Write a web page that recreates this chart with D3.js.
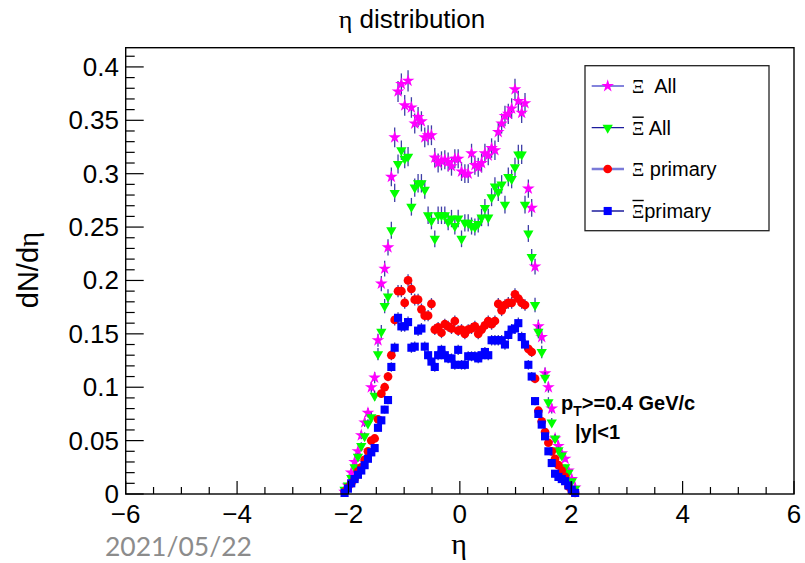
<!DOCTYPE html>
<html>
<head>
<meta charset="utf-8">
<script src="https://cdn.jsdelivr.net/npm/d3@7"></script>
<style>
  html, body { margin: 0; padding: 0; background: #fff; }
  svg { display: block; }
</style>
</head>
<body>
<svg id="chart" width="805" height="563"></svg>
<script>
// Histogram binning: 70 bins of width 0.06 from -2.1 to 2.1
const binLow = -2.1;
const binWidth = 0.06;

// dN/deta per bin
const xiAll = [
  0.002, 0.008, 0.020, 0.030, 0.040, 0.055, 0.067, 0.076, 0.100, 0.109,
  0.144, 0.197, 0.211, 0.231, 0.297, 0.334, 0.377, 0.384, 0.364, 0.387,
  0.362, 0.347, 0.353, 0.349, 0.334, 0.336, 0.336, 0.315, 0.310, 0.312,
  0.313, 0.311, 0.307, 0.314, 0.314, 0.302, 0.300, 0.300, 0.319, 0.308,
  0.306, 0.310, 0.319, 0.317, 0.324, 0.322, 0.339, 0.347, 0.354, 0.356,
  0.361, 0.379, 0.368, 0.357, 0.366, 0.286, 0.268, 0.213, 0.157, 0.147,
  0.113, 0.100, 0.080, 0.052, 0.045, 0.038, 0.033, 0.022, 0.014, 0.006
];
const xiBarAll = [
  0.004, 0.008, 0.015, 0.025, 0.035, 0.045, 0.054, 0.066, 0.072, 0.092,
  0.131, 0.152, 0.176, 0.185, 0.247, 0.282, 0.309, 0.322, 0.314, 0.316,
  0.269, 0.287, 0.291, 0.291, 0.285, 0.261, 0.256, 0.239, 0.261, 0.261,
  0.261, 0.255, 0.258, 0.251, 0.258, 0.239, 0.254, 0.254, 0.251, 0.250,
  0.253, 0.259, 0.268, 0.259, 0.278, 0.288, 0.283, 0.290, 0.271, 0.297,
  0.295, 0.306, 0.318, 0.318, 0.271, 0.244, 0.222, 0.177, 0.152, 0.133,
  0.109, 0.086, 0.067, 0.052, 0.041, 0.036, 0.025, 0.020, 0.012, 0.005
];
const xiPrimary = [
  0.002, 0.006, 0.010, 0.014, 0.021, 0.025, 0.032, 0.040, 0.050, 0.052,
  0.070, 0.094, 0.100, 0.110, 0.130, 0.163, 0.190, 0.190, 0.179, 0.200,
  0.192, 0.182, 0.182, 0.173, 0.167, 0.167, 0.178, 0.154, 0.156, 0.151,
  0.159, 0.157, 0.155, 0.162, 0.153, 0.154, 0.150, 0.154, 0.155, 0.157,
  0.150, 0.154, 0.158, 0.162, 0.159, 0.162, 0.178, 0.172, 0.177, 0.179,
  0.179, 0.187, 0.183, 0.179, 0.177, 0.136, 0.133, 0.108, 0.078, 0.068,
  0.058, 0.048, 0.040, 0.033, 0.027, 0.022, 0.016, 0.007, 0.003, 0.001
];
const xiBarPrimary = [
  0.001, 0.005, 0.010, 0.014, 0.018, 0.022, 0.027, 0.033, 0.039, 0.043,
  0.062, 0.069, 0.079, 0.088, 0.119, 0.137, 0.165, 0.157, 0.157, 0.161,
  0.137, 0.138, 0.153, 0.155, 0.138, 0.130, 0.124, 0.119, 0.130, 0.135,
  0.130, 0.127, 0.127, 0.121, 0.135, 0.121, 0.121, 0.129, 0.129, 0.129,
  0.127, 0.130, 0.133, 0.130, 0.144, 0.144, 0.144, 0.144, 0.140, 0.149,
  0.154, 0.155, 0.160, 0.147, 0.140, 0.121, 0.110, 0.087, 0.075, 0.065,
  0.054, 0.040, 0.029, 0.019, 0.016, 0.014, 0.012, 0.008, 0.004, 0.001
];

// Statistical error coefficient per series (sigma = k * sqrt(content))
const errCoef = [0.016, 0.016, 0.013, 0.013];

const xTicks = [-6, -4, -2, 0, 2, 4, 6];
const yTicks = [0, 0.05, 0.1, 0.15, 0.2, 0.25, 0.3, 0.35, 0.4];
const legendLabels = [
  { sym: "Ξ", bar: false, rest: "  All" },
  { sym: "Ξ", bar: true,  rest: " All" },
  { sym: "Ξ", bar: false, rest: " primary" },
  { sym: "Ξ", bar: true,  rest: "primary" }
];

const series = [
  { values: xiAll,        color: "#ff00ff", marker: "star" },
  { values: xiBarAll,     color: "#00ff00", marker: "tri" },
  { values: xiPrimary,    color: "#ff0000", marker: "circle" },
  { values: xiBarPrimary, color: "#0000ff", marker: "square" }
];

const svg = d3.select("#chart");
const frame = { left: 125.7, right: 794, top: 47.7, bottom: 494 };

const x = d3.scaleLinear().domain([-6, 6]).range([frame.left, frame.right]);
const y = d3.scaleLinear().domain([0, 0.418]).range([frame.bottom, frame.top]);

const errColor = "#1c1c96";

function markerPath(kind) {
  if (kind === "star") return d3.symbol().type(d3.symbolStar).size(50)();
  if (kind === "tri") return d3.symbol().type(d3.symbolTriangle).size(46)();
  if (kind === "circle") return d3.symbol().type(d3.symbolCircle).size(60)();
  return d3.symbol().type(d3.symbolSquare).size(66)();
}

function drawMarker(g, kind, color, cx, cy) {
  const p = g.append("path")
    .attr("d", markerPath(kind))
    .attr("fill", color)
    .attr("stroke", "none");
  if (kind === "tri") p.attr("transform", `translate(${cx},${cy}) rotate(180)`);
  else p.attr("transform", `translate(${cx},${cy})`);
}

// Data layer
const plot = svg.append("g");
series.forEach((s, si) => {
  const g = plot.append("g");
  const pts = s.values.map((v, i) => ({
    eta: binLow + binWidth * (i + 0.5),
    v,
    e: errCoef[si] * Math.sqrt(v)
  }));
  g.selectAll("line.err").data(pts).join("line")
    .attr("class", "err")
    .attr("x1", d => x(d.eta)).attr("x2", d => x(d.eta))
    .attr("y1", d => y(Math.max(0, d.v - d.e)))
    .attr("y2", d => y(d.v + d.e))
    .attr("stroke", errColor)
    .attr("stroke-width", 1.3)
    .attr("stroke-opacity", 0.85);
  pts.forEach(d => drawMarker(g, s.marker, s.color, x(d.eta), y(d.v)));
});

// Frame
svg.append("rect")
  .attr("x", frame.left).attr("y", frame.top)
  .attr("width", frame.right - frame.left)
  .attr("height", frame.bottom - frame.top)
  .attr("fill", "none").attr("stroke", "#000").attr("stroke-width", 1.4);

// X axis ticks (inward), majors every 2, minors every 0.5
const axisG = svg.append("g").attr("stroke", "#000").attr("stroke-width", 1.2);
d3.range(-6, 6.001, 0.5).forEach(t => {
  const major = Math.abs(t / 2 - Math.round(t / 2)) < 1e-6;
  axisG.append("line")
    .attr("x1", x(t)).attr("x2", x(t))
    .attr("y1", frame.bottom).attr("y2", frame.bottom - (major ? 13 : 7));
});
// Y axis ticks, majors every 0.05, minors every 0.01
d3.range(0, 0.4101, 0.01).forEach(t => {
  const major = Math.abs(t / 0.05 - Math.round(t / 0.05)) < 1e-6;
  axisG.append("line")
    .attr("x1", frame.left).attr("x2", frame.left + (major ? 18 : 9))
    .attr("y1", y(t)).attr("y2", y(t));
});

const sans = "'Liberation Sans', Arial, Helvetica, sans-serif";
const serif = "'Liberation Serif', 'DejaVu Serif', serif";

// Tick labels
svg.append("g").selectAll("text").data(xTicks).join("text")
  .attr("x", d => x(d)).attr("y", 523)
  .attr("text-anchor", "middle")
  .attr("font-family", sans).attr("font-size", 26)
  .text(d => d < 0 ? "\u2212" + Math.abs(d) : String(d));

svg.append("g").selectAll("text").data(yTicks).join("text")
  .attr("x", 119).attr("y", d => y(d) + 9)
  .attr("text-anchor", "end")
  .attr("font-family", sans).attr("font-size", 26)
  .text(d => String(d));

// Title
const title = svg.append("text")
  .attr("x", 412).attr("y", 28)
  .attr("text-anchor", "middle")
  .attr("font-family", sans).attr("font-size", 26);
title.append("tspan").attr("font-family", serif).text("η");
title.append("tspan").text(" distribution");

// Axis titles
svg.append("text")
  .attr("x", 459).attr("y", 554)
  .attr("text-anchor", "middle")
  .attr("font-family", serif).attr("font-size", 30)
  .text("η");

const yt = svg.append("text")
  .attr("transform", "translate(38,270) rotate(-90)")
  .attr("text-anchor", "middle")
  .attr("font-family", sans).attr("font-size", 29);
yt.append("tspan").text("dN/d");
yt.append("tspan").attr("font-family", serif).text("η");

// Date stamp
svg.append("text")
  .attr("x", 105).attr("y", 556)
  .attr("font-family", "Lato, 'Open Sans', sans-serif")
  .attr("font-size", 26.5)
  .attr("fill", "#8c8c8c")
  .text("2021/05/22");

// Kinematic cuts
const cut = svg.append("text")
  .attr("x", 561).attr("y", 410)
  .attr("font-family", sans).attr("font-weight", "bold").attr("font-size", 20);
cut.append("tspan").text("p");
cut.append("tspan").attr("font-size", 14).attr("dy", 6).text("T");
cut.append("tspan").attr("dy", -6).text(">=0.4 GeV/c");
svg.append("text")
  .attr("x", 575).attr("y", 439)
  .attr("font-family", sans).attr("font-weight", "bold").attr("font-size", 20)
  .text("|y|<1");

// Legend
const leg = { x: 585, y: 65.7, w: 184, h: 165 };
svg.append("rect")
  .attr("x", leg.x).attr("y", leg.y).attr("width", leg.w).attr("height", leg.h)
  .attr("fill", "#fff").attr("stroke", "#222").attr("stroke-width", 1.3);
const rowY = [86, 127.7, 169, 211];
const legLineColor = ["#5a5ad0", "#1c1c9c", "#7a7ad8", "#1c1c9c"];
const legLineW = [1.5, 1.3, 2.5, 1.3];
series.forEach((s, i) => {
  const g = svg.append("g");
  g.append("line")
    .attr("x1", 591.7).attr("x2", 624)
    .attr("y1", rowY[i]).attr("y2", rowY[i])
    .attr("stroke", legLineColor[i]).attr("stroke-width", legLineW[i]);
  drawMarker(g, s.marker, s.color, 607.7, rowY[i]);
  const lab = legendLabels[i];
  const sym = g.append("text")
    .attr("x", 632).attr("y", rowY[i] + 7)
    .attr("font-family", serif).attr("font-size", 19)
    .text(lab.sym);
  const bb = sym.node().getBBox();
  if (lab.bar) {
    g.append("line")
      .attr("x1", bb.x + 0.5).attr("x2", bb.x + bb.width - 0.5)
      .attr("y1", rowY[i] - 10.5).attr("y2", rowY[i] - 10.5)
      .attr("stroke", "#000").attr("stroke-width", 1.4);
  }
  g.append("text")
    .attr("x", bb.x + bb.width).attr("y", rowY[i] + 7)
    .attr("font-family", sans).attr("font-size", 20)
    .attr("xml:space", "preserve")
    .style("white-space", "pre")
    .text(lab.rest);
});
</script>
</body>
</html>
